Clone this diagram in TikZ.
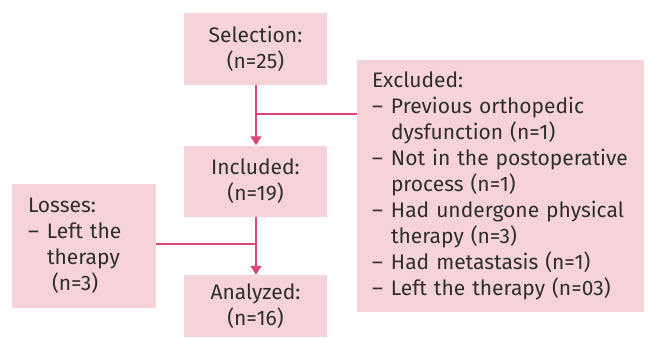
\documentclass[tikz,border=0pt]{standalone}
\usepackage{fontspec}
\setmainfont{Fira Sans}
\usetikzlibrary{arrows.meta}
\definecolor{boxfill}{HTML}{F5D3D9}
\definecolor{linecol}{HTML}{DC4579}
\definecolor{txt}{HTML}{2E2E2E}
\newcommand{\dashitem}{\makebox[19pt][l]{–}}
\newcommand{\hang}{\hspace*{19pt}}
\tikzset{
  pbox/.style={fill=boxfill, draw=none, text=txt, font=\fontsize{21}{26}\selectfont, inner sep=0pt},
  conn/.style={draw=linecol, line width=1.3pt},
  arr/.style={conn, -{Triangle[length=9pt,width=11pt]}}
}
\begin{document}
\begin{tikzpicture}[x=1pt,y=-1pt]
\useasboundingbox (0,0) rectangle (648,338);
\node[pbox, minimum width=143pt, minimum height=72pt, align=center] (sel) at (255.5,49) {Selection:\\(n=25)};
\node[pbox, minimum width=143pt, minimum height=71pt, align=center] (inc) at (255.5,181) {Included:\\(n=19)};
\node[pbox, minimum width=143pt, minimum height=62pt, align=center] (ana) at (255.5,306) {Analyzed:\\(n=16)};
\node[pbox, minimum width=287pt, minimum height=252pt, text width=257pt, align=left, inner xsep=15pt] (exc) at (500.5,186) {Excluded:\\
\dashitem Previous orthopedic\\
\hang dysfunction (n=1)\\
\dashitem Not in the postoperative\\
\hang process (n=1)\\
\dashitem Had undergone physical\\
\hang therapy (n=3)\\
\dashitem Had metastasis (n=1)\\
\dashitem Left the therapy (n=03)};
\node[pbox, minimum width=144pt, minimum height=124pt, text width=112pt, align=left, inner xsep=16pt] (los) at (84,246) {Losses:\\
\dashitem Left the\\
\hang therapy\\
\hang\hspace*{5pt}(n=3)};
\coordinate (j1) at (256,114);
\coordinate (j2) at (256,244);
\draw[arr] (sel.south -| j1) -- (inc.north -| j1);
\draw[arr] (inc.south -| j2) -- (ana.north -| j2);
\draw[conn] (j1) -- (exc.west |- j1);
\draw[conn] (j2) -- (los.east |- j2);
\end{tikzpicture}
\end{document}
